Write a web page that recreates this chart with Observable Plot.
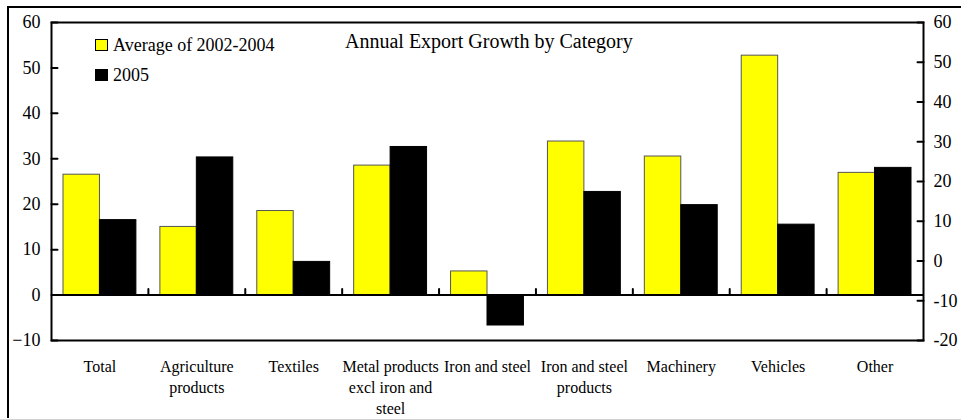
<!DOCTYPE html>
<html>
<head>
<meta charset="utf-8">
<script src="https://cdn.jsdelivr.net/npm/d3@7"></script>
<script src="https://cdn.jsdelivr.net/npm/@observablehq/plot@0.6"></script>
<style>
  html, body { margin: 0; padding: 0; background: #fff; }
  #wrap { position: relative; width: 961px; height: 420px; overflow: hidden; font-family: "Liberation Serif", "Times New Roman", serif; color: #000; }
  #border { position: absolute; left: 7px; top: 6px; width: 1000px; height: 412px; border-top: 2px solid #000; border-left: 2px solid #000; box-sizing: border-box; }
  #bottomline { position: absolute; left: 0; top: 419px; width: 961px; height: 1px; background: #d0d0d0; }
  #chart { position: absolute; left: 0; top: 0; }
  #chart svg text { font-family: "Liberation Serif", "Times New Roman", serif; }
  .title { position: absolute; left: 345px; top: 30px; font-size: 20px; line-height: 22px; white-space: nowrap; }
  .legend { position: absolute; left: 95px; font-size: 18px; line-height: 20px; white-space: nowrap; display: flex; align-items: center; }
  .sw { width: 13px; height: 12px; box-sizing: border-box; border: 1px solid #000; margin-right: 5px; }
</style>
</head>
<body>
<div id="wrap">
  <div id="border"></div>
  <div id="bottomline"></div>
  <div id="chart"></div>
  <div class="title" id="title"></div>
  <div id="legend"></div>
</div>
<script>
// ---- Data ----
const categories = ["Total", "Agriculture products", "Textiles", "Metal products excl iron and steel", "Iron and steel", "Iron and steel products", "Machinery", "Vehicles", "Other"];
const categoryLabels = ["Total", "Agriculture\nproducts", "Textiles", "Metal products\nexcl iron and\nsteel", "Iron and steel", "Iron and steel\nproducts", "Machinery", "Vehicles", "Other"];
const seriesNames = ["Average of 2002-2004", "2005"];
const seriesColors = ["#ffff00", "#000000"];
const avg2002_2004 = [26.5, 15.0, 18.5, 28.5, 5.2, 33.8, 30.5, 52.7, 26.9];
const y2005 = [16.5, 30.3, 7.3, 32.6, -6.7, 22.7, 19.8, 15.5, 28.0];
const leftDomain = [-10, 60];
const rightDomain = [-20, 60];
const leftTicks = [-10, 0, 10, 20, 30, 40, 50, 60];
const rightTicks = [-20, -10, 0, 10, 20, 30, 40, 50, 60];
const titleText = "Annual Export Growth by Category";

// ---- Layout ----
const W = 961, H = 420, mL = 51, mR = 38, mT = 22, mB = 80;
const bw = (W - mL - mR) / categories.length;
const gap = 12, barW = (bw - 2 * gap) / 2;
const serif = '"Liberation Serif", "Times New Roman", serif';

const rowsAvg = categories.map((c, i) => ({category: c, value: avg2002_2004[i]}));
const rows2005 = categories.map((c, i) => ({category: c, value: y2005[i]}));

// right axis values expressed in left-axis units
const toLeft = v => leftDomain[0] + (v - rightDomain[0]) / (rightDomain[1] - rightDomain[0]) * (leftDomain[1] - leftDomain[0]);
const fromLeft = l => rightDomain[0] + (l - leftDomain[0]) / (leftDomain[1] - leftDomain[0]) * (rightDomain[1] - rightDomain[0]);

const tickShape = {draw(context, l) { context.moveTo(0, 0); context.lineTo(0, -l); }};

const chart = Plot.plot({
  width: W, height: H,
  marginLeft: mL, marginRight: mR, marginTop: mT, marginBottom: mB,
  style: {fontFamily: serif, fontSize: "16px", color: "#000", background: "transparent", overflow: "visible"},
  x: {domain: categories, padding: 0, round: false},
  y: {domain: leftDomain},
  marks: [
    Plot.barY(rowsAvg, {x: "category", y: "value", fill: seriesColors[0], stroke: "#555", strokeWidth: 1, insetLeft: gap, insetRight: bw - gap - barW}),
    Plot.barY(rows2005, {x: "category", y: "value", fill: seriesColors[1], stroke: "#000", strokeWidth: 1, insetLeft: gap + barW, insetRight: gap}),
    Plot.ruleY([0], {stroke: "#000", strokeWidth: 2}),
    Plot.vector(categories.slice(0, -1), {x: d => d, y: () => 0, dx: bw / 2, length: 6, anchor: "start", shape: tickShape, stroke: "#000", strokeWidth: 2}),
    Plot.frame({stroke: "#000", strokeWidth: 2}),
    Plot.vector(leftTicks, {y: d => d, frameAnchor: "left", rotate: 90, length: 6, anchor: "start", shape: tickShape, stroke: "#000", strokeWidth: 2}),
    Plot.vector(rightTicks.map(toLeft), {y: d => d, frameAnchor: "right", rotate: -90, length: 6, anchor: "start", shape: tickShape, stroke: "#000", strokeWidth: 2}),
    Plot.axisY(leftTicks, {anchor: "left", tickSize: 0, tickPadding: 11, fontSize: 18, fontFamily: serif, label: null}),
    Plot.axisY(rightTicks.map(toLeft), {anchor: "right", tickSize: 0, tickPadding: 10, fontSize: 18, fontFamily: serif, label: null, tickFormat: d => String(Math.round(fromLeft(d)))}),
    Plot.axisX({tickSize: 0, tickPadding: 17, fontSize: 16, fontFamily: serif, lineHeight: 1.3, label: null, tickFormat: d => categoryLabels[categories.indexOf(d)]})
  ]
});
document.getElementById("chart").appendChild(chart);
document.getElementById("title").textContent = titleText;

const legend = document.getElementById("legend");
seriesNames.forEach((name, i) => {
  const item = document.createElement("div");
  item.className = "legend";
  item.style.top = (35 + i * 30) + "px";
  const sw = document.createElement("div");
  sw.className = "sw";
  sw.style.background = seriesColors[i];
  const label = document.createElement("span");
  label.textContent = name;
  item.appendChild(sw);
  item.appendChild(label);
  legend.appendChild(item);
});
</script>
</body>
</html>
